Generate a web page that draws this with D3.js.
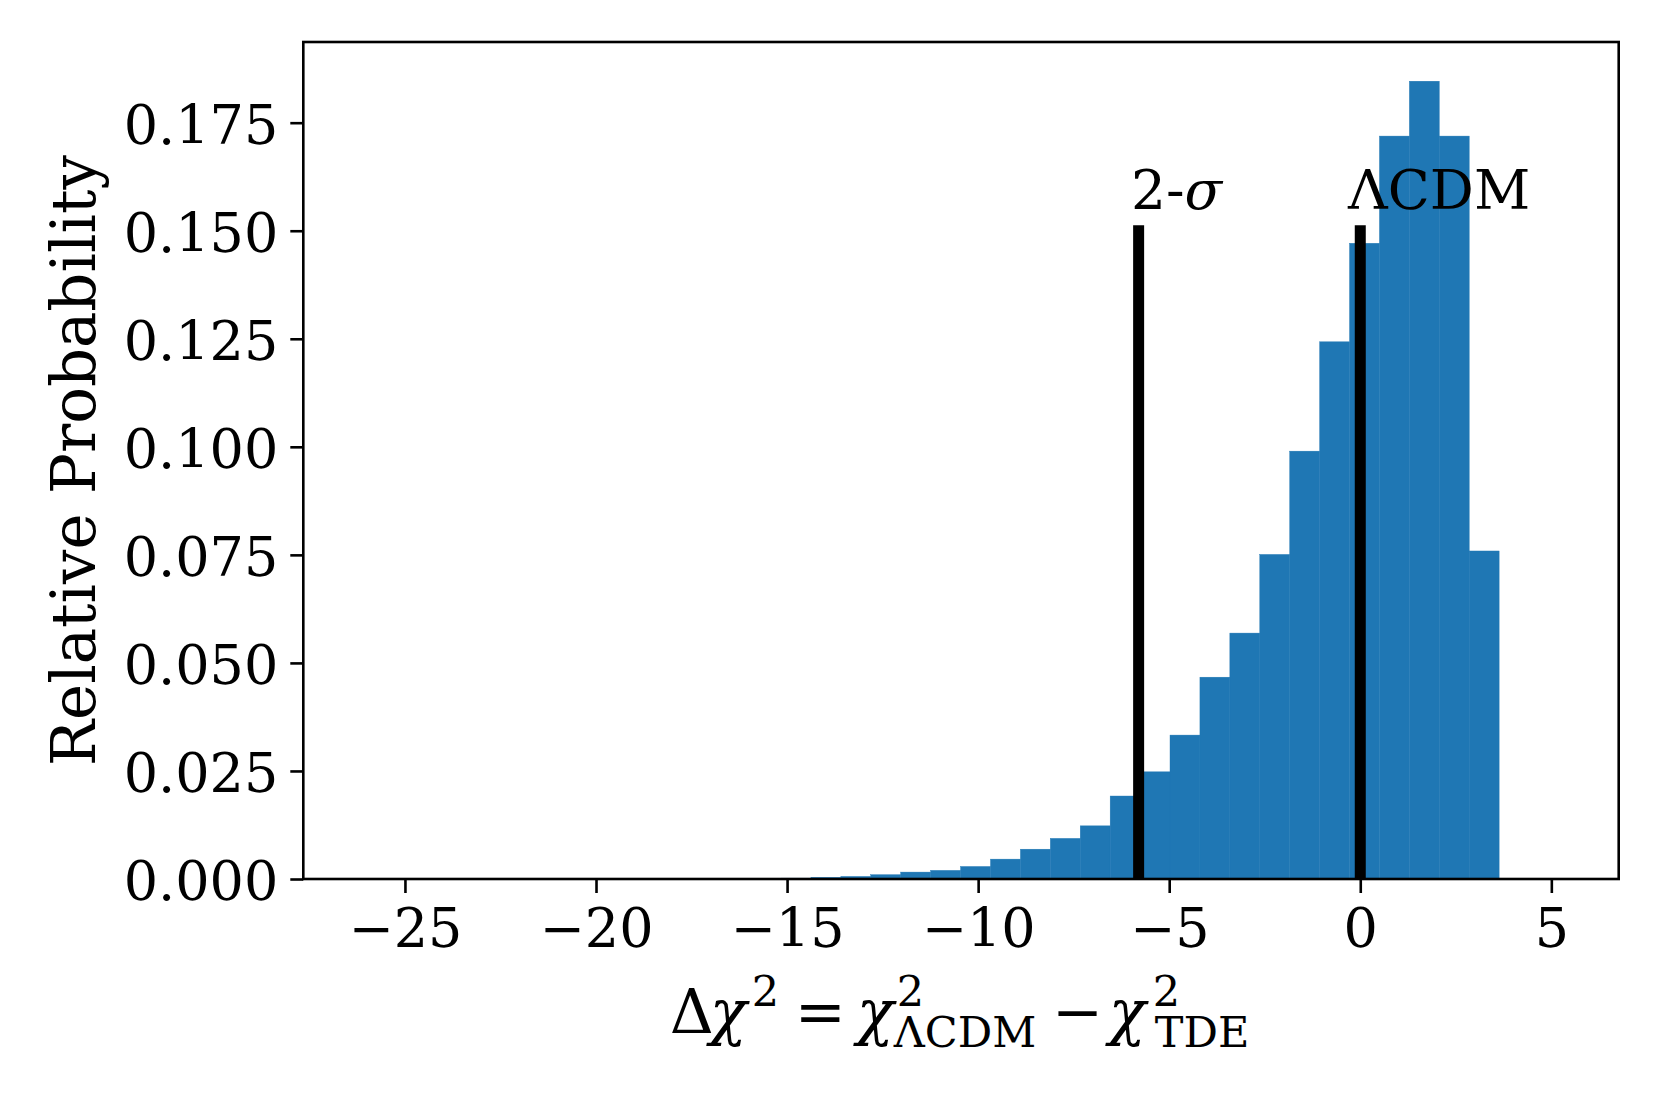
<!DOCTYPE html>
<html>
<head>
<meta charset="utf-8">
<script src="https://cdn.jsdelivr.net/npm/d3@7"></script>
<style>
  body { margin: 0; background: #ffffff; }
  text { font-family: "DejaVu Serif", serif; fill: #000; }
</style>
</head>
<body>
<div id="box"></div>
<script>
// histogram bin edges (41 edges -> 40 bins)
var binEdges = [-26.12, -25.337, -24.554, -23.771, -22.988, -22.205, -21.422, -20.639,
    -19.856, -19.073, -18.29, -17.507, -16.724, -15.941, -15.158, -14.375, -13.592,
    -12.809, -12.026, -11.243, -10.46, -9.677, -8.894, -8.111, -7.328, -6.545, -5.762,
    -4.979, -4.196, -3.413, -2.63, -1.847, -1.064, -0.281, 0.502, 1.285, 2.068, 2.851,
    3.634, 4.417, 5.2];

// density of each bin
var binHeights = [0.00003, 0.00001, 0.00001, 0.00003, 0.00001, 0.00003, 0.00003, 0.00004,
    0.00004, 0.00005, 0.00007, 0.00009, 0.0001, 0.00014, 0.0002, 0.0004, 0.0006,
    0.0010, 0.0016, 0.0020, 0.0029, 0.0046, 0.0069, 0.0094, 0.0123, 0.0192, 0.0248,
    0.0333, 0.0467, 0.0569, 0.0751, 0.0990, 0.1243, 0.1471, 0.1719, 0.1846, 0.1719,
    0.0759, 0.00002, 0.00002];

var xTicks = [-25, -20, -15, -10, -5, 0, 5];
var yTicks = [0, 0.025, 0.05, 0.075, 0.1, 0.125, 0.15, 0.175];

// vertical reference lines and their labels
var refX = [-5.8, 0];
var refTop = [0.15, 0.15];
var refLabelX = [-6.0, -0.32];
var refLabelY = [0.155, 0.155];

var xDomain = [-27.66, 6.763];
var yDomain = [0, 0.19367];

var W = 1661, H = 1107;
var margin = { left: 303.3, right: W - 1618.7, top: 42, bottom: H - 879 };

var svg = d3.select("#box")
    .append("svg")
    .attr("width", W)
    .attr("height", H)
    .style("background", "#fff");

var x = d3.scaleLinear().domain(xDomain).range([margin.left, W - margin.right]);
var y = d3.scaleLinear().domain(yDomain).range([H - margin.bottom, margin.top]);

svg.append("clipPath").attr("id", "plotclip")
    .append("rect")
    .attr("x", x.range()[0]).attr("y", y.range()[1])
    .attr("width", x.range()[1] - x.range()[0])
    .attr("height", y.range()[0] - y.range()[1]);

var plot = svg.append("g").attr("clip-path", "url(#plotclip)");

// bars
var bins = binHeights.map(function(h, i) { return { x0: binEdges[i], x1: binEdges[i + 1], h: h }; });
plot.selectAll(".bar")
    .data(bins)
    .enter()
    .append("rect")
    .attr("class", "bar")
    .attr("x", function(d) { return x(d.x0); })
    .attr("width", function(d) { return x(d.x1) - x(d.x0); })
    .attr("y", function(d) { return y(d.h); })
    .attr("height", function(d) { return y(0) - y(d.h); })
    .attr("fill", "#1f77b4")
    .attr("stroke", "#1f77b4")
    .attr("stroke-width", 0.4);

// reference lines
plot.selectAll(".ref")
    .data(refX)
    .enter()
    .append("line")
    .attr("class", "ref")
    .attr("x1", function(d) { return x(d); })
    .attr("x2", function(d) { return x(d); })
    .attr("y1", y(0))
    .attr("y2", function(d, i) { return y(refTop[i]); })
    .attr("stroke", "#000")
    .attr("stroke-width", 11)
    .attr("stroke-linecap", "square");

// axes
var tickFont = 54;
var xAxis = d3.axisBottom(x).tickValues(xTicks).tickSize(14).tickPadding(16).tickFormat(d3.format("d"));
var yAxis = d3.axisLeft(y).tickValues(yTicks).tickSize(13).tickPadding(12).tickFormat(d3.format(".3f"));

var gx = svg.append("g").attr("transform", "translate(0," + y.range()[0] + ")").call(xAxis);
var gy = svg.append("g").attr("transform", "translate(" + x.range()[0] + ",0)").call(yAxis);

[gx, gy].forEach(function(g) {
    g.select(".domain").remove();
    g.selectAll(".tick line").attr("stroke", "#000").attr("stroke-width", 2.6);
    g.selectAll(".tick text")
        .style("font-family", "'DejaVu Serif', serif")
        .style("font-size", tickFont + "px")
        .attr("fill", "#000");
});
gx.selectAll(".tick text").attr("dy", "0.71em");
gy.selectAll(".tick text").attr("dy", "0.38em");

// frame
svg.append("rect")
    .attr("x", x.range()[0]).attr("y", y.range()[1])
    .attr("width", x.range()[1] - x.range()[0])
    .attr("height", y.range()[0] - y.range()[1])
    .attr("fill", "none")
    .attr("stroke", "#000")
    .attr("stroke-width", 2.6);

// labels on reference lines
var lab1 = svg.append("text")
    .attr("x", x(refLabelX[0])).attr("y", y(refLabelY[0]))
    .style("font-size", "55px");
lab1.append("tspan").text("2-");
lab1.append("tspan").style("font-style", "italic").text("σ");

svg.append("text")
    .attr("x", x(refLabelX[1])).attr("y", y(refLabelY[1]))
    .style("font-size", "55px")
    .text("ΛCDM");

// y label
var labelFont = 61;
svg.append("text")
    .attr("transform", "translate(95," + ((y.range()[0] + y.range()[1]) / 2) + ") rotate(-90)")
    .attr("text-anchor", "middle")
    .style("font-size", labelFont + "px")
    .text("Relative Probability");

// x label (math-style layout, one text element with positioned tspans)
var scriptFont = 43;
var supRaise = -27, subDrop = 14;
var pieces = [
    { t: "Δ", dx: 0, size: labelFont, it: false, dy: 0 },
    { t: "χ", dx: 40, size: labelFont, it: true, dy: 0 },
    { t: "2", dx: 82, size: scriptFont, it: false, dy: supRaise },
    { t: "=", dx: 125, size: labelFont, it: false, dy: 0 },
    { t: "χ", dx: 187, size: labelFont, it: true, dy: 0 },
    { t: "2", dx: 227, size: scriptFont, it: false, dy: supRaise },
    { t: "ΛCDM", dx: 224, size: scriptFont, it: false, dy: subDrop },
    { t: "−", dx: 382, size: labelFont, it: false, dy: 0 },
    { t: "χ", dx: 439, size: labelFont, it: true, dy: 0 },
    { t: "2", dx: 483, size: scriptFont, it: false, dy: supRaise },
    { t: "TDE", dx: 485, size: scriptFont, it: false, dy: subDrop }
];
var xl = svg.append("text").style("font-size", labelFont + "px");
xl.selectAll("tspan")
    .data(pieces)
    .enter()
    .append("tspan")
    .attr("x", function(d) { return d.dx; })
    .attr("y", function(d) { return d.dy; })
    .style("font-size", function(d) { return d.size + "px"; })
    .style("font-style", function(d) { return d.it ? "italic" : "normal"; })
    .text(function(d) { return d.t; });
var bb = xl.node().getBBox();
xl.attr("transform", "translate(" + (959.5 - (bb.x + bb.width / 2)) + ",1033)");
</script>
</body>
</html>
